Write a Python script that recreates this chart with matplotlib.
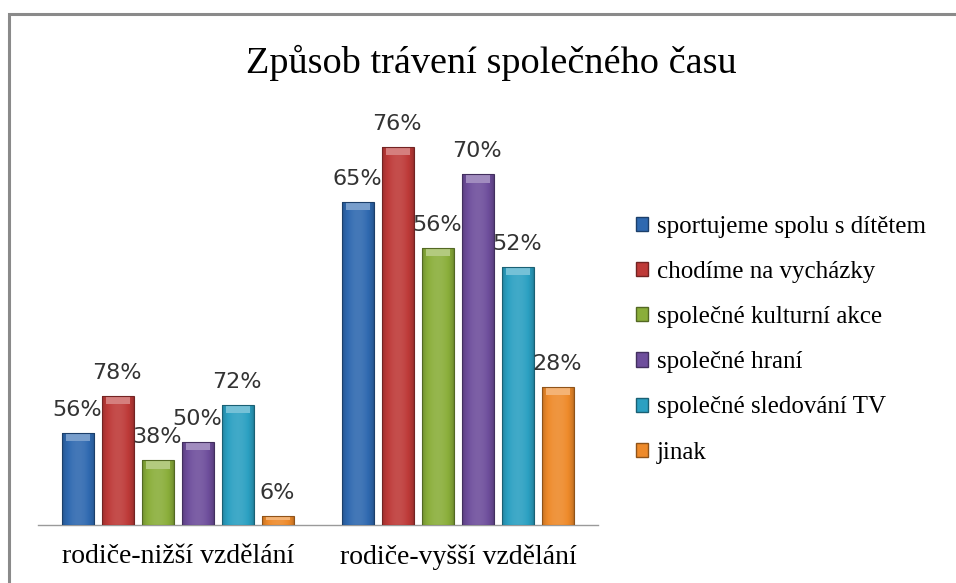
import numpy as np
import matplotlib
matplotlib.use("Agg")
import matplotlib.pyplot as plt
from matplotlib.patches import Patch, Rectangle
from matplotlib.colors import to_rgb

# --- data: counts per activity (bar heights) and printed percentage labels ---
groups = ["rodiče-nižší vzdělání", "rodiče-vyšší vzdělání"]
activities = ["sportujeme spolu s dítětem", "chodíme na vycházky",
              "společné kulturní akce", "společné hraní",
              "společné sledování TV", "jinak"]
counts_low = [10, 14, 7, 9, 13, 1]
counts_high = [35, 41, 30, 38, 28, 15]
labels_low = ["56%", "78%", "38%", "50%", "72%", "6%"]
labels_high = ["65%", "76%", "56%", "70%", "52%", "28%"]

colors = ["#2F69B0", "#BE3A38", "#8AAE3A", "#6E4E9C", "#2BA0C2", "#EE8A2A"]

W, H = 956, 583
fig = plt.figure(figsize=(W / 100, H / 100), dpi=100)
fig.patch.set_facecolor("white")

# outer chart frame (runs off the right/bottom like the screenshot)
fig.add_artist(Rectangle((9 / W, -0.1), 1.2, (H - 14) / H + 0.1,
                         transform=fig.transFigure, fill=False,
                         edgecolor="#8a8a8a", lw=2.2))

ax = fig.add_axes([38 / W, (H - 525) / H, 560 / W, 425 / H])
ax.set_xlim(-3.5, 10.5)
ax.set_ylim(0, 425 / 9.23)
for s in ["top", "right", "left"]:
    ax.spines[s].set_visible(False)
ax.spines["bottom"].set_color("#9a9a9a")
ax.spines["bottom"].set_linewidth(1.0)
ax.set_yticks([])
ax.set_xticks([0, 7])
ax.set_xticklabels(groups, family="Liberation Serif", fontsize=20)
ax.tick_params(axis="x", length=0, pad=14)


def shade(c, f):
    r = np.array(to_rgb(c))
    return np.clip(r * f, 0, 1) if f < 1 else np.clip(r + (1 - r) * (f - 1), 0, 1)


def draw_group(center, counts, labels):
    xs = center + np.arange(len(counts)) - 2.5
    bars = ax.bar(xs, counts, width=0.8, color=colors, edgecolor="none", zorder=2)
    for b, c, lab in zip(bars, colors, labels):
        x0, w, h = b.get_x(), b.get_width(), b.get_height()
        # horizontal gradient to mimic the glossy Excel bars
        t = np.linspace(0, 1, 64)
        prof = 0.78 + 0.32 * np.sin(np.pi * t) ** 0.6
        img = np.array([shade(c, f) for f in prof])[None, :, :]
        im = ax.imshow(img, extent=(x0, x0 + w, 0, h), aspect="auto",
                       zorder=3, interpolation="bilinear")
        im.set_clip_path(b)
        # light cap at the top
        cap = min(0.9, h * 0.5)
        ax.add_patch(Rectangle((x0 + w * 0.12, h - cap), w * 0.76, cap,
                               facecolor=shade(c, 1.35), edgecolor="none",
                               zorder=4))
        ax.add_patch(Rectangle((x0, 0), w, h, fill=False,
                               edgecolor=shade(c, 0.6), lw=0.8, zorder=5))
        ax.annotate(lab, (x0 + w / 2, h), xytext=(-1, 13),
                    textcoords="offset pixels", ha="center", va="bottom",
                    fontsize=16, color="#333333", family="DejaVu Sans",
                    zorder=6)


draw_group(0, counts_low, labels_low)
draw_group(7, counts_high, labels_high)

fig.text(491 / W, 1 - 63 / H, "Způsob trávení společného času",
         ha="center", va="center", family="Liberation Serif", fontsize=27.5)

handles = [Patch(facecolor=c, edgecolor=shade(c, 0.6)) for c in colors]
leg = fig.legend(handles, activities, loc="upper left",
                 bbox_to_anchor=(623 / W, 1 - 203 / H), frameon=False,
                 prop={"family": "Liberation Serif", "size": 18},
                 handlelength=0.5, handleheight=0.5, handletextpad=0.35,
                 labelspacing=0.93, borderpad=0)

fig.savefig("out.png", dpi=100, facecolor="white")
